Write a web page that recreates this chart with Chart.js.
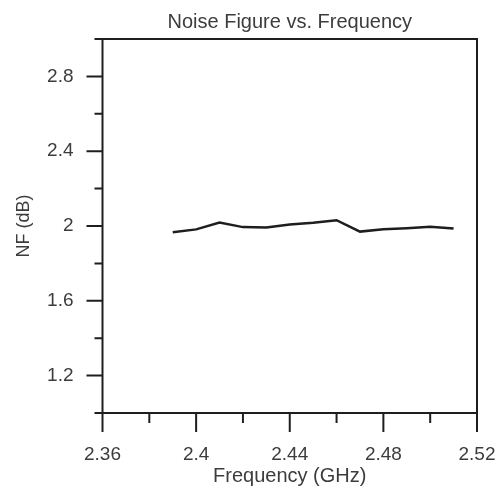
<!DOCTYPE html>
<html>
<head>
<meta charset="utf-8">
<script src="https://cdn.jsdelivr.net/npm/chart.js@4"></script>
<style>
  html, body { margin: 0; padding: 0; background: #fff; }
  #wrap { width: 504px; height: 489px; }
</style>
</head>
<body>
<div id="wrap"><canvas id="c" width="504" height="489"></canvas></div>
<script>
// data
const freq = [2.39, 2.40, 2.41, 2.42, 2.43, 2.44, 2.45, 2.46, 2.47, 2.48, 2.49, 2.50, 2.51];
const nf   = [1.966, 1.982, 2.018, 1.994, 1.992, 2.008, 2.018, 2.031, 1.970, 1.982, 1.988, 1.996, 1.986];
const xTickLabels = ["2.36", "2.4", "2.44", "2.48", "2.52"];
const yTickLabels = ["1.2", "1.6", "2", "2.4", "2.8"];

const ink = "#1e1e1e";
const textCol = "#3c3c3c";
const fam = "'Liberation Sans', Arial, sans-serif";

function fmt(v) { return String(parseFloat(v.toFixed(2))); }

// frame + tick marks (major ones long, minor short)
const frameTicks = {
  id: "frameTicks",
  afterDraw(chart) {
    const ctx = chart.ctx, a = chart.chartArea;
    const xs = chart.scales.x, ys = chart.scales.y;
    ctx.save();
    ctx.strokeStyle = ink;
    ctx.lineWidth = 2;
    ctx.strokeRect(a.left, a.top, a.right - a.left, a.bottom - a.top);
    ctx.beginPath();
    xs.ticks.forEach(t => {
      const px = xs.getPixelForValue(t.value);
      const len = xTickLabels.includes(fmt(t.value)) ? 19 : 10;
      ctx.moveTo(px, a.bottom);
      ctx.lineTo(px, a.bottom + len);
    });
    ys.ticks.forEach(t => {
      const py = ys.getPixelForValue(t.value);
      const len = yTickLabels.includes(fmt(t.value)) ? 16 : 8;
      ctx.moveTo(a.left, py);
      ctx.lineTo(a.left - len, py);
    });
    ctx.stroke();
    ctx.restore();
  }
};

new Chart(document.getElementById("c"), {
  type: "line",
  data: {
    datasets: [{
      data: freq.map((f, i) => ({ x: f, y: nf[i] })),
      borderColor: ink,
      borderWidth: 2.5,
      pointRadius: 0,
      tension: 0,
      fill: false
    }]
  },
  options: {
    responsive: false,
    animation: false,
    layout: { padding: { left: 0, right: 27, top: 0, bottom: 0 } },
    plugins: {
      legend: { display: false },
      tooltip: { enabled: false },
      title: {
        display: true,
        fullSize: false,
        text: "Noise Figure vs. Frequency",
        color: textCol,
        font: { family: fam, size: 20, weight: "normal" },
        padding: { top: 10, bottom: 5 }
      }
    },
    scales: {
      x: {
        type: "linear",
        min: 2.36,
        max: 2.52,
        grid: { display: false, drawTicks: false },
        border: { display: false },
        ticks: {
          stepSize: 0.02,
          autoSkip: false,
          maxRotation: 0,
          padding: 30,
          color: textCol,
          font: { family: fam, size: 19 },
          callback: v => { const s = fmt(v); return xTickLabels.includes(s) ? s : ""; }
        },
        title: {
          display: true,
          text: "Frequency (GHz)",
          color: textCol,
          font: { family: fam, size: 20 },
          padding: { top: 0, bottom: 1 }
        },
        afterFit: s => { s.height = 76; s.paddingLeft = 0; s.paddingRight = 0; }
      },
      y: {
        min: 1,
        max: 3,
        grid: { display: false, drawTicks: false },
        border: { display: false },
        ticks: {
          stepSize: 0.2,
          autoSkip: false,
          padding: 29,
          color: textCol,
          font: { family: fam, size: 19 },
          callback: v => { const s = fmt(v); return yTickLabels.includes(s) ? s : ""; }
        },
        title: {
          display: true,
          text: "NF (dB)",
          color: textCol,
          font: { family: fam, size: 18 },
          padding: { top: 13, bottom: 0 }
        },
        afterFit: s => { s.width = 102.5; s.paddingTop = 0; s.paddingBottom = 0; }
      }
    }
  },
  plugins: [frameTicks]
});
</script>
</body>
</html>
